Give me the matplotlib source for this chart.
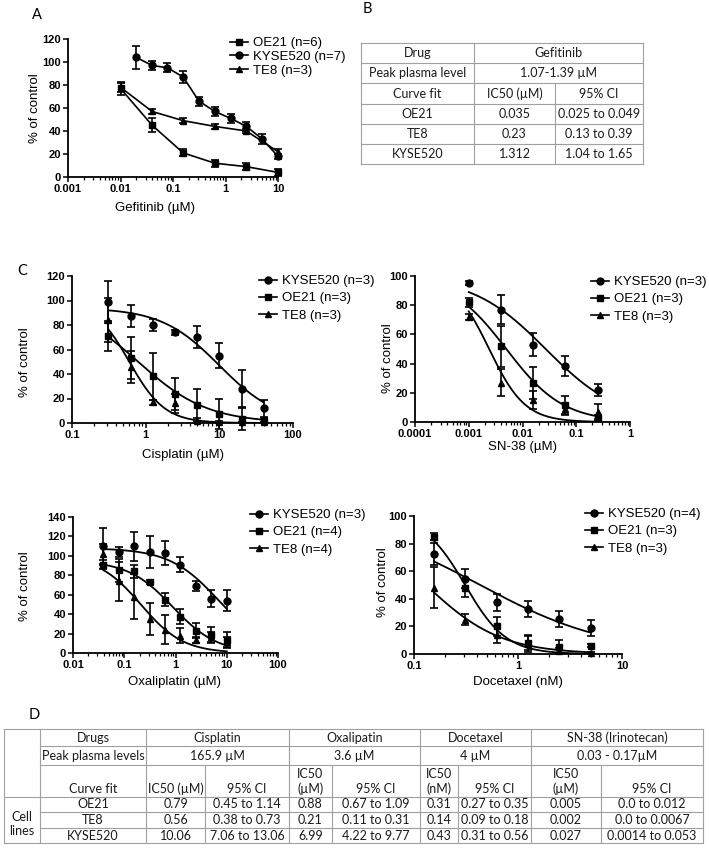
import numpy as np
import matplotlib.pyplot as plt
from matplotlib.lines import Line2D
from matplotlib.ticker import LogLocator, NullFormatter

plt.rcParams['font.family'] = ['Liberation Sans', 'DejaVu Sans']
TFONT = ['Lato', 'DejaVu Sans']
GRID = '#a0a0a0'
W, H = 709, 849

# ---------------- panel A: gefitinib (points joined) ----------------
gef_oe21_x = [0.01, 0.04, 0.156, 0.625, 2.5, 10]
gef_oe21_y = [77, 45, 21, 12, 9, 4]
gef_oe21_err = [6, 6, 3, 3, 3, 3]
gef_kyse_x = [0.02, 0.04, 0.078, 0.156, 0.3125, 0.625, 1.25, 2.5, 5, 10]
gef_kyse_y = [104, 97, 95, 87, 66, 57, 51, 44, 33, 18]
gef_kyse_err = [10, 4, 4, 5, 4, 4, 4, 4, 4, 2]
gef_te8_x = [0.01, 0.04, 0.156, 0.625, 2.5, 10]
gef_te8_y = [78, 57, 49, 44, 40, 22]
gef_te8_err = [4, 2, 2, 2, 2, 2]

# ---------------- panel C: dose response with fits ----------------
cis_dose = [0.3125, 0.625, 1.25, 2.5, 5, 10, 20, 40]
cis_kyse = [99, 87.5, 80, 74, 70, 55, 28, 12]
cis_kyse_err = [17, 9, 5, 2, 9, 10, 15, 7]
cis_oe21 = [71, 53, 38, 23.5, 15, 7.5, 3.5, 2]
cis_oe21_err = [12, 17, 19, 13, 13, 12, 9, 2]
cis_te8 = [84, 46, 17, 16, 2, 1, 0.5, 0.5]
cis_te8_err = [18, 13, 2, 8, 2, 1, 0.5, 0.5]
cis_fit = {'KYSE520': (94, 10, 1.1), 'OE21': (100, 0.79, 0.92), 'TE8': (100, 0.6, 1.8)}

sn_dose = [0.001, 0.004, 0.016, 0.0625, 0.25]
sn_kyse = [95, 77, 53, 38.5, 22]
sn_kyse_err = [1.5, 10, 8, 7, 4]
sn_oe21 = [82, 52, 26.5, 11.5, 2.5]
sn_oe21_err = [3, 14, 11, 6, 2]
sn_te8 = [72, 27, 15, 9, 7]
sn_te8_err = [2, 9, 6, 4, 5]
sn_fit = {'KYSE520': (100, 0.027, 0.634), 'OE21': (100, 0.005, 0.823), 'TE8': (100, 0.0024, 1.3)}

oxa_dose = [0.039, 0.078, 0.156, 0.3125, 0.625, 1.25, 2.5, 5, 10]
oxa_kyse = [110, 104, 110, 104, 103, 91, 69, 56, 54]
oxa_kyse_err = [19, 5, 15, 16, 12, 8, 5, 9, 11]
oxa_oe21 = [91, 85, 84, 73, 55, 37.5, 23, 19, 13.5]
oxa_oe21_err = [5, 12, 7, 2, 7, 8, 8, 8, 8]
oxa_te8 = [102, 74, 58, 35, 24, 18, 13, 16, 11]
oxa_te8_err = [10, 20, 23, 16, 15, 8, 3, 6, 5]
oxa_fit = {'KYSE520': (108, 7, 0.9), 'OE21': (95, 0.88, 1.0), 'TE8': (100, 0.21, 1.05)}

doc_dose = [0.156, 0.3125, 0.625, 1.25, 2.5, 5]
doc_kyse = [72.5, 54.5, 37.5, 32.5, 25.5, 19]
doc_kyse_err = [8, 7, 6, 6, 6, 6]
doc_oe21 = [85, 47.5, 20, 8, 5, 6]
doc_oe21_err = [2.5, 6, 7, 5, 5, 1]
doc_te8 = [48, 25, 14, 7.5, 2.5, 0.7]
doc_te8_err = [15, 4, 6, 6, 2, 0.5]
doc_fit = {'KYSE520': (100, 0.433, 0.694), 'OE21': (100, 0.31, 2.2), 'TE8': (100, 0.13, 1.2)}

# ---------------- tables ----------------
b_lines = ['OE21', 'TE8', 'KYSE520']
b_ic50 = ['0.035', '0.23', '1.312']
b_ci = ['0.025 to 0.049', '0.13 to 0.39', '1.04 to 1.65']

d_drugs = ['Cisplatin', 'Oxalipatin', 'Docetaxel', 'SN-38 (Irinotecan)']
d_peak = ['165.9 µM', '3.6 µM', '4 µM', '0.03 - 0.17µM']
d_ic50_head = [['IC50 (µM)'], ['IC50', '(µM)'], ['IC50', '(nM)'], ['IC50', '(µM)']]
d_lines = ['OE21', 'TE8', 'KYSE520']
d_ic50 = [['0.79', '0.56', '10.06'], ['0.88', '0.21', '6.99'],
          ['0.31', '0.14', '0.43'], ['0.005', '0.002', '0.027']]
d_ci = [['0.45 to 1.14', '0.38 to 0.73', '7.06 to 13.06'],
        ['0.67 to 1.09', '0.11 to 0.31', '4.22 to 9.77'],
        ['0.27 to 0.35', '0.09 to 0.18', '0.31 to 0.56'],
        ['0.0 to 0.012', '0.0 to 0.0067', '0.0014 to 0.053']]

MARK = {'KYSE520': 'o', 'OE21': 's', 'TE8': '^'}


def hill(x, top, ic50, slope):
    return top / (1 + (x / ic50) ** slope)


fig = plt.figure(figsize=(W / 100, H / 100), dpi=100)
over = fig.add_axes([0, 0, 1, 1])
over.set_xlim(0, W)
over.set_ylim(H, 0)
over.axis('off')


def px_axes(x0, y0, x1, y1):
    return fig.add_axes([x0 / W, 1 - y1 / H, (x1 - x0) / W, (y1 - y0) / H])


def style(ax, xlim, ylim, ystep):
    ax.set_xscale('log')
    ax.set_xlim(xlim)
    ax.set_ylim(ylim)
    yt = np.arange(ylim[0], ylim[1] + 1, ystep)
    ax.set_yticks(yt, [f'{v:g}' for v in yt], fontweight='bold')
    xt = 10.0 ** np.arange(np.log10(xlim[0]), np.log10(xlim[1]) + 0.5)
    ax.set_xticks(xt, [f'{v:g}' for v in xt], fontweight='bold')
    ax.xaxis.set_minor_locator(LogLocator(base=10, subs=np.arange(2, 10)))
    ax.xaxis.set_minor_formatter(NullFormatter())
    for s in ('top', 'right'):
        ax.spines[s].set_visible(False)
    for s in ('left', 'bottom'):
        ax.spines[s].set_linewidth(1.3)
    ax.tick_params(which='major', direction='out', length=3.5, width=1.1,
                   labelsize=8, pad=1.5)
    ax.tick_params(which='minor', direction='out', length=2, width=0.9)
    ax.patch.set_alpha(0)


def put_legend(ax, hs, labs, x, y, spacing):
    ax.legend(hs, labs, loc='upper left', bbox_to_anchor=(x / W, 1 - y / H),
              bbox_transform=fig.transFigure, frameon=False, fontsize=9.5,
              handlelength=1.35, handletextpad=0.4, labelspacing=spacing,
              borderpad=0, borderaxespad=0)


EB = dict(color='k', ms=5, lw=1.2, elinewidth=1.2, capsize=3, capthick=1.2, clip_on=False)

# ---- panel A ----
axA = px_axes(68, 39, 278, 177)
style(axA, (0.001, 10), (0, 120), 20)
axA.errorbar(gef_oe21_x, gef_oe21_y, yerr=gef_oe21_err, fmt='-s', **EB)
axA.errorbar(gef_kyse_x, gef_kyse_y, yerr=gef_kyse_err, fmt='-o', **EB)
axA.errorbar(gef_te8_x, gef_te8_y, yerr=gef_te8_err, fmt='-^', **EB)
hs = [Line2D([], [], color='k', marker=m, ms=5, lw=1.2) for m in 'so^']
put_legend(axA, hs, ['OE21 (n=6)', 'KYSE520 (n=7)', 'TE8 (n=3)'], 230, 37, 0.12)


def fit_panel(box, dose, series, fits, xlim, ylim, ystep, labels, leg_xy):
    ax = px_axes(*box)
    style(ax, xlim, ylim, ystep)
    xs = np.logspace(np.log10(dose[0]), np.log10(dose[-1]), 200)
    for name, y, e in series:
        ax.errorbar(dose, y, yerr=e, fmt=MARK[name], **EB)
        ax.plot(xs, hill(xs, *fits[name]), color='k', lw=1.3)
    hs = [Line2D([], [], color='k', marker=MARK[n], ms=5, lw=1.2) for n, _, _ in series]
    put_legend(ax, hs, labels, leg_xy[0], leg_xy[1], 0.38)
    return ax


fit_panel((72, 276, 293, 423), cis_dose,
          [('KYSE520', cis_kyse, cis_kyse_err), ('OE21', cis_oe21, cis_oe21_err),
           ('TE8', cis_te8, cis_te8_err)],
          cis_fit, (0.1, 100), (0, 120), 20,
          ['KYSE520 (n=3)', 'OE21 (n=3)', 'TE8 (n=3)'], (259, 275))
fit_panel((415, 276, 630, 422), sn_dose,
          [('KYSE520', sn_kyse, sn_kyse_err), ('OE21', sn_oe21, sn_oe21_err),
           ('TE8', sn_te8, sn_te8_err)],
          sn_fit, (0.0001, 1), (0, 100), 20,
          ['KYSE520 (n=3)', 'OE21 (n=3)', 'TE8 (n=3)'], (591, 276))
fit_panel((73, 517, 278, 653), oxa_dose,
          [('KYSE520', oxa_kyse, oxa_kyse_err), ('OE21', oxa_oe21, oxa_oe21_err),
           ('TE8', oxa_te8, oxa_te8_err)],
          oxa_fit, (0.01, 100), (0, 140), 20,
          ['KYSE520 (n=3)', 'OE21 (n=4)', 'TE8 (n=4)'], (250, 509))
fit_panel((414, 516, 622, 654), doc_dose,
          [('KYSE520', doc_kyse, doc_kyse_err), ('OE21', doc_oe21, doc_oe21_err),
           ('TE8', doc_te8, doc_te8_err)],
          doc_fit, (0.1, 10), (0, 100), 20,
          ['KYSE520 (n=4)', 'OE21 (n=3)', 'TE8 (n=3)'], (585, 508))

# ---- axis titles and panel letters ----
for txt, x, y in [('Gefitinib (µM)', 155, 208), ('Cisplatin (µM)', 183, 455),
                  ('SN-38 (µM)', 523, 447), ('Oxaliplatin (µM)', 175, 682),
                  ('Docetaxel (nM)', 518, 682)]:
    over.text(x, y, txt, ha='center', va='center', fontsize=9.5)
for x, y in [(35, 108), (25, 362), (388, 358), (25, 586), (383, 582)]:
    over.text(x, y, '% of control', ha='center', va='center', fontsize=9.5, rotation=90)
for txt, x, y in [('A', 37, 15), ('B', 367, 9), ('C', 22, 271), ('D', 34, 715)]:
    over.text(x, y, txt, ha='center', va='center', fontsize=10.5, family=TFONT)


def hl(y, x0, x1):
    over.plot([x0, x1], [y, y], color=GRID, lw=0.8)


def vl(x, y0, y1):
    over.plot([x, x], [y0, y1], color=GRID, lw=0.8)


def tx(s, x0, x1, y):
    over.text((x0 + x1) / 2, y, s, ha='center', va='center', fontsize=9,
              family=TFONT, color='#1a1a1a')


# ---- table B ----
xb = [361, 474, 555, 643]
yb = [43, 63, 83, 104, 124, 144, 164]
for y in yb:
    hl(y, xb[0], xb[-1])
vl(xb[0], yb[0], yb[-1])
vl(xb[1], yb[0], yb[-1])
vl(xb[3], yb[0], yb[-1])
vl(xb[2], yb[2], yb[-1])
mid = [(yb[i] + yb[i + 1]) / 2 for i in range(6)]
tx('Drug', xb[0], xb[1], mid[0])
tx('Gefitinib', xb[1], xb[3], mid[0])
tx('Peak plasma level', xb[0], xb[1], mid[1])
tx('1.07-1.39 µM', xb[1], xb[3], mid[1])
tx('Curve fit', xb[0], xb[1], mid[2])
tx('IC50 (µM)', xb[1], xb[2], mid[2])
tx('95% CI', xb[2], xb[3], mid[2])
for i, name in enumerate(b_lines):
    tx(name, xb[0], xb[1], mid[3 + i])
    tx(b_ic50[i], xb[1], xb[2], mid[3 + i])
    tx(b_ci[i], xb[2], xb[3], mid[3 + i])

# ---- table D ----
xd = [4, 40, 146, 205, 289, 332, 420, 458, 531, 601, 703]
yd = [729, 746, 765, 797, 812, 828, 843]
hl(yd[0], xd[0], xd[-1])
hl(yd[3], xd[0], xd[-1])
hl(yd[6], xd[0], xd[-1])
for y in (yd[1], yd[2], yd[4], yd[5]):
    hl(y, xd[1], xd[-1])
for x in (xd[0], xd[1], xd[2], xd[4], xd[6], xd[8], xd[10]):
    vl(x, yd[0], yd[-1])
for x in (xd[3], xd[5], xd[7], xd[9]):
    vl(x, yd[2], yd[-1])
dm = [(yd[i] + yd[i + 1]) / 2 for i in range(6)]
tx('Drugs', xd[1], xd[2], dm[0])
tx('Peak plasma levels', xd[1], xd[2], dm[1])
tx('Curve fit', xd[1], xd[2], 789)
for k in range(4):
    a, b, c = xd[2 + 2 * k], xd[3 + 2 * k], xd[4 + 2 * k]
    tx(d_drugs[k], a, c, dm[0])
    tx(d_peak[k], a, c, dm[1])
    head = d_ic50_head[k]
    if len(head) == 1:
        tx(head[0], a, b, 789)
    else:
        tx(head[0], a, b, 774)
        tx(head[1], a, b, 789)
    tx('95% CI', b, c, 789)
    for i in range(3):
        tx(d_ic50[k][i], a, b, dm[3 + i])
        tx(d_ci[k][i], b, c, dm[3 + i])
for i, name in enumerate(d_lines):
    tx(name, xd[1], xd[2], dm[3 + i])
tx('Cell', xd[0], xd[1], 817)
tx('lines', xd[0], xd[1], 831)

fig.savefig('out.png', dpi=100)
